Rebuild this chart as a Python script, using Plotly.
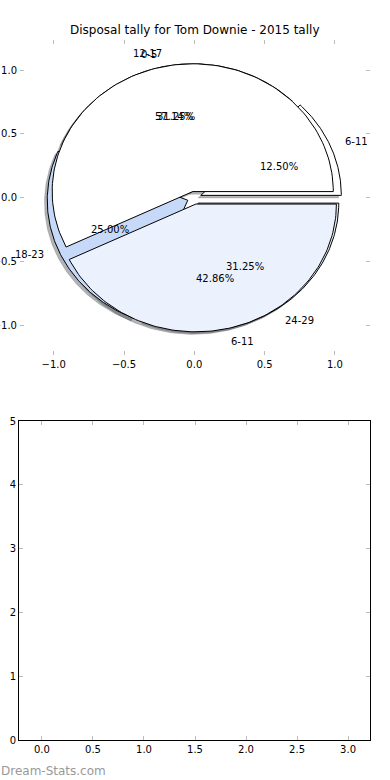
import numpy as np
import plotly.graph_objects as go

# ---- data ----
title = "Disposal tally for Tom Downie - 2015 tally"
pie_b_labels = ["6-11", "12-17", "18-23", "24-29"]
pie_b_values = [2, 5, 4, 5]
pie_a_labels = ["0-5", "6-11"]
pie_a_values = [4, 3]
top_ticks = [-1.0, -0.5, 0.0, 0.5, 1.0]
bottom_xticks = [0.0, 0.5, 1.0, 1.5, 2.0, 2.5, 3.0]
bottom_yticks = [0, 1, 2, 3, 4, 5]
watermark = "Dream-Stats.com"

# ---- styles ----
pie_b_colors = ["#ffffff", "#ebf1fd", "#c6d9f8", "#ebf1fd"]
pie_a_colors = ["#ffffff", "#ebf1fd"]
pie_b_explode = [0.05, 0.05, 0.05, 0.05]
pie_a_explode = [0.05, 0.05]
FONT = "DejaVu Sans"


def hex_rgb(h):
    h = h.lstrip("#")
    return tuple(int(h[i:i + 2], 16) for i in (0, 2, 4))


def wedges(values, explode):
    total = float(sum(values))
    out = []
    t1 = 0.0
    for v, e in zip(values, explode):
        t2 = t1 + 360.0 * v / total
        mid = np.deg2rad((t1 + t2) / 2)
        cx, cy = e * np.cos(mid), e * np.sin(mid)
        th = np.deg2rad(np.linspace(t1, t2, 120))
        xs = np.concatenate([[cx], cx + np.cos(th), [cx]])
        ys = np.concatenate([[cy], cy + np.sin(th), [cy]])
        out.append(dict(x=xs, y=ys, cx=cx, cy=cy, mid=mid, pct=100.0 * v / total))
        t1 = t2
    return out


wb = wedges(pie_b_values, pie_b_explode)
wa = wedges(pie_a_values, pie_a_explode)

fig = go.Figure()

# shadows first (lower zorder)
for ws, cols in ((wb, pie_b_colors), (wa, pie_a_colors)):
    for w, c in zip(ws, cols):
        r, g, b = hex_rgb(c)
        sc = "rgba(%d,%d,%d,0.4)" % (int(0.3 * r), int(0.3 * g), int(0.3 * b))
        fig.add_trace(go.Scatter(x=w["x"] - 0.02, y=w["y"] - 0.02, mode="lines",
                                 fill="toself", fillcolor=sc,
                                 line=dict(color=sc, width=0.5),
                                 hoverinfo="skip", showlegend=False,
                                 xaxis="x", yaxis="y"))

# wedges
for ws, cols in ((wb, pie_b_colors), (wa, pie_a_colors)):
    for w, c in zip(ws, cols):
        fig.add_trace(go.Scatter(x=w["x"], y=w["y"], mode="lines",
                                 fill="toself", fillcolor=c,
                                 line=dict(color="black", width=1),
                                 hoverinfo="skip", showlegend=False,
                                 xaxis="x", yaxis="y"))

annotations = []
for ws, labels in ((wb, pie_b_labels), (wa, pie_a_labels)):
    for w, lab in zip(ws, labels):
        lx = w["cx"] + 1.1 * np.cos(w["mid"])
        ly = w["cy"] + 1.1 * np.sin(w["mid"])
        annotations.append(dict(x=lx, y=ly, xref="x", yref="y", text=lab,
                                showarrow=False, xanchor="left" if lx > 0 else "right",
                                yanchor="middle", borderpad=0,
                                font=dict(family=FONT, size=10, color="black")))
        px = w["cx"] + 0.6 * np.cos(w["mid"])
        py = w["cy"] + 0.6 * np.sin(w["mid"])
        annotations.append(dict(x=px, y=py, xref="x", yref="y", text="%.2f%%" % w["pct"],
                                showarrow=False, xanchor="center", yanchor="middle",
                                borderpad=0,
                                font=dict(family=FONT, size=10, color="black")))

annotations.append(dict(x=0.5, y=1 - 30 / 780, xref="paper", yref="paper", text=title,
                        showarrow=False, xanchor="center", yanchor="middle",
                        font=dict(family=FONT, size=12, color="black")))
annotations.append(dict(x=0.0, y=1 - 771 / 780, xref="paper", yref="paper", text=watermark,
                        showarrow=False, xanchor="left", yanchor="middle", borderpad=0,
                        font=dict(family=FONT, size=12, color="#999999")))

tick_common = dict(ticks="inside", ticklen=4, tickwidth=1, tickcolor="#bbbbbb",
                   showgrid=False, zeroline=False, automargin=False,
                   tickfont=dict(family=FONT, size=10, color="black"))


def fmt(t):
    return "%.1f" % t if t >= 0 else "\u2212%.1f" % -t


fig.update_layout(
    width=390, height=780,
    margin=dict(l=0, r=0, t=0, b=0, pad=0),
    paper_bgcolor="white", plot_bgcolor="white",
    showlegend=False,
    annotations=annotations,
    xaxis=dict(domain=[20 / 390, 370 / 390], range=[-1.24, 1.25], anchor="y",
               tickvals=top_ticks, ticktext=[fmt(t) for t in top_ticks],
               showline=True, linecolor="rgba(0,0,0,0)", mirror="ticks", **tick_common),
    yaxis=dict(domain=[1 - 355 / 780, 1 - 40 / 780], range=[-1.23, 1.235], anchor="x",
               tickvals=top_ticks, ticktext=[fmt(t) for t in top_ticks],
               showline=True, linecolor="rgba(0,0,0,0)", mirror="ticks", **tick_common),
    xaxis2=dict(domain=[19 / 390, 370 / 390], range=[-0.225, 3.215], anchor="y2",
                tickvals=bottom_xticks, ticktext=["%.1f" % t for t in bottom_xticks],
                showline=True, linecolor="black", linewidth=1, mirror="ticks", **tick_common),
    yaxis2=dict(domain=[1 - 740 / 780, 1 - 421 / 780], range=[0, 5], anchor="x2",
                tickvals=bottom_yticks, ticktext=[str(t) for t in bottom_yticks],
                showline=True, linecolor="black", linewidth=1, mirror="ticks", **tick_common),
)

# empty trace so the lower axes are drawn
fig.add_trace(go.Scatter(x=[], y=[], xaxis="x2", yaxis="y2", showlegend=False))

fig.write_html("out.html", config={"displayModeBar": False},
               post_script="document.body.style.margin='0';")
